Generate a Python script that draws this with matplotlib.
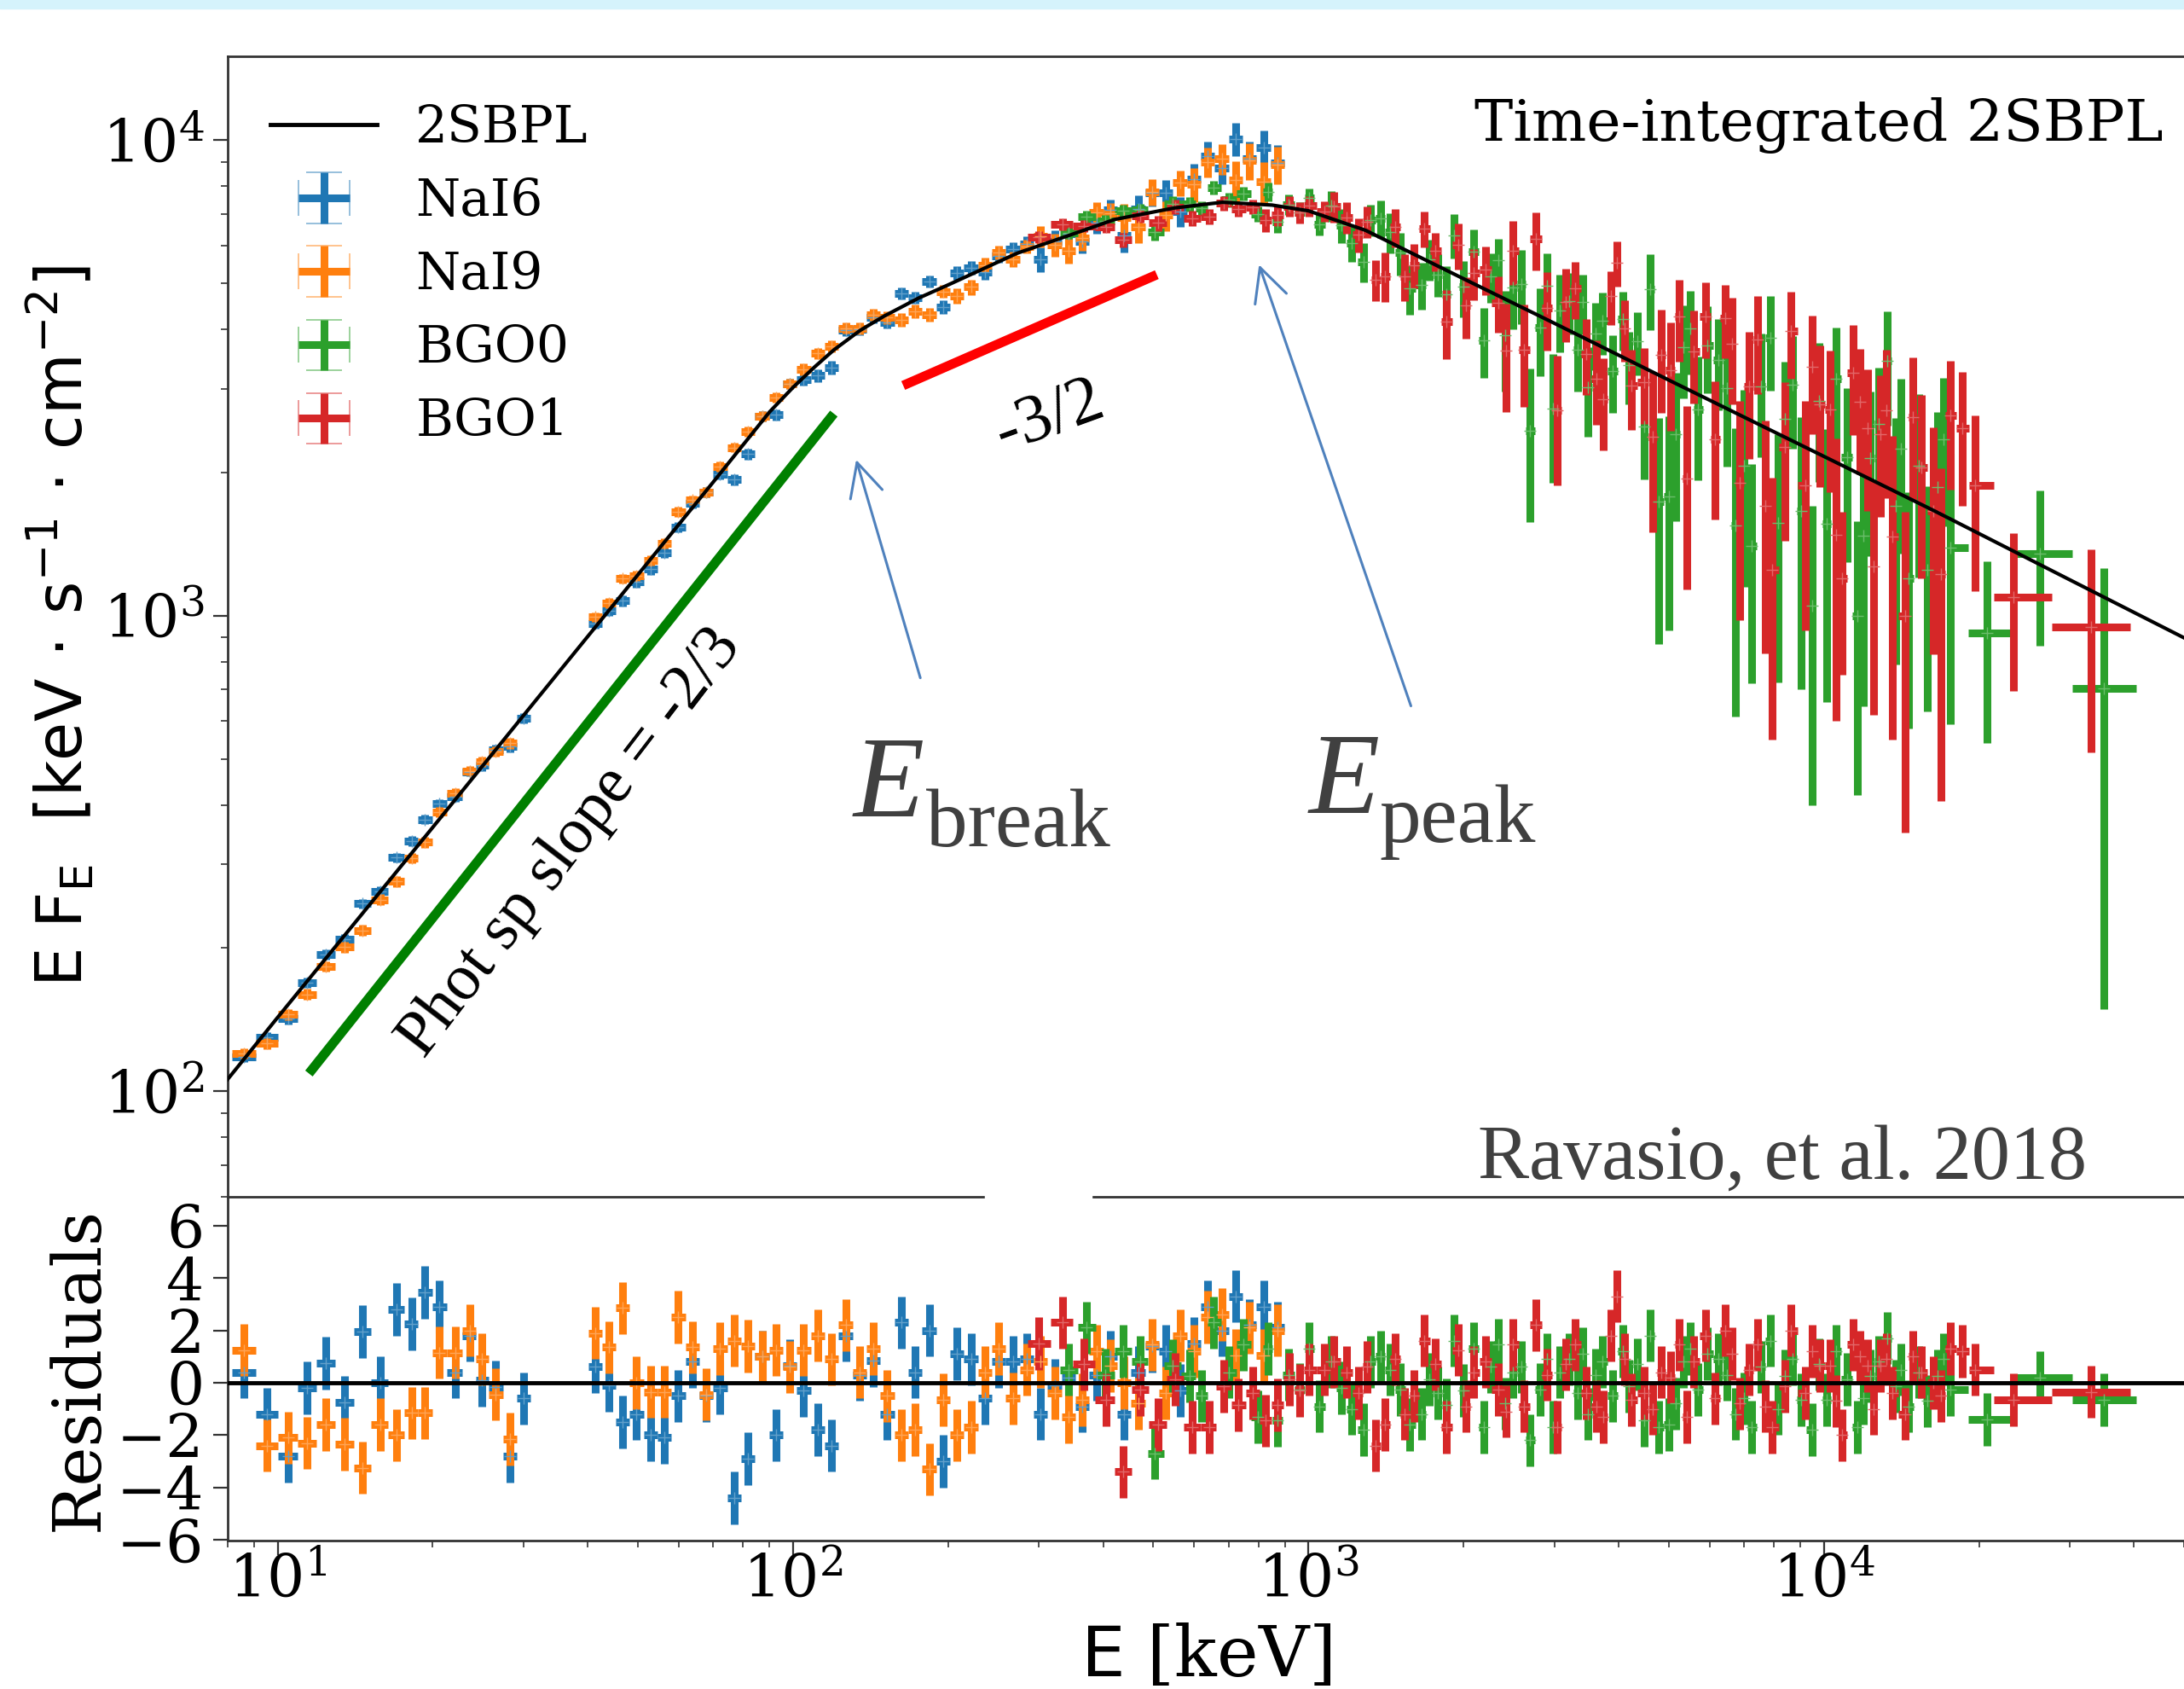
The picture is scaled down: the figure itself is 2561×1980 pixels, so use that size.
import numpy as np
import matplotlib
matplotlib.use("Agg")
import matplotlib.pyplot as plt
from matplotlib.colors import to_rgb
from matplotlib.lines import Line2D
from matplotlib.patches import Rectangle

plt.rcParams["font.family"] = "DejaVu Serif"
plt.rcParams["mathtext.fontset"] = "dejavuserif"

# 2SBPL best-fit curve (E in keV, E F_E)
model_e = [8, 10, 20, 30, 50, 70, 90, 100, 110, 120, 135, 150, 175, 200, 272, 350,
           421, 550, 681, 850, 1000, 1291, 2000, 3000, 5000, 10000, 16480, 30000, 50350]
model_f = [106, 143, 359, 617, 1219, 1909, 2680, 3020, 3330, 3620, 3980, 4260, 4650, 4960, 5780, 6350,
           6810, 7200, 7400, 7300, 7100, 6460, 5110, 4120, 3130, 2163, 1656, 1190, 895]

# NaI channel centres (keV); 30-40 keV is left out
nai_e_low = [8.6, 9.55, 10.5, 11.4, 12.4, 13.5, 14.6, 15.8, 17.0, 18.2, 19.3, 20.6, 22.1, 23.6,
             24.9, 26.5, 28.2, 30.0]
nai_e_high = [41.3, 43.9, 46.7, 49.7, 52.9, 56.3, 59.9, 63.8, 67.9, 72.2, 76.9, 81.8, 87.1, 92.7,
              98.6, 104.9, 111.6, 118.8, 126.5, 134.6, 143.2, 152.4, 162.2, 172.6, 183.7, 195.5,
              208.1, 221.4, 235.6, 250.8, 266.9, 284.0, 302.3, 321.7, 342.3, 364.3, 387.7, 412.6,
              439.0, 467.2, 497.3, 529.2, 563.2, 599.4, 637.8, 678.8, 722.4, 768.8, 818.1, 870.7]
nai_df_low = [3, 3.4, 3.8, 4.3, 4.8, 5.3, 5.9, 6.6, 7.3, 8, 8.6, 9.4, 10.3, 11.2, 12.1, 13.1, 14.2, 15.5]
nai_df_high = [24, 26, 28, 30, 33, 36, 39, 42, 46, 50, 54, 59, 64, 70, 76, 95, 101, 108, 113, 119,
               124, 129, 134, 138, 143, 147, 177, 183, 189, 195, 201, 206, 331, 338, 346, 355, 363,
               372, 481, 487, 494, 500, 506, 655, 660, 666, 811, 808, 806, 800]

nai6_f = [118, 130, 142, 169, 194, 209, 248, 263, 310, 336, 373, 402, 416, 470, 484, 522, 530, 609,
          962, 1025, 1074, 1177, 1252, 1358, 1537, 1726, 1816, 1985, 1932, 2187, 2627, 2647, 3072,
          3142, 3195, 3329, 3980, 4006, 4238, 4143, 4763, 4669, 5045, 4463, 5255, 5384, 5274, 5716,
          5900, 6058, 5613, 6116, 6364, 6128, 6711, 7132, 6293, 7155, 7743, 7746, 7070, 8263, 9252,
          8730, 10052, 9127, 9660, 8949]
nai6_r = [0.4, -1.2, -2.8, -0.2, 0.75, -0.75, 1.95, 0.0, 2.8, 2.25, 3.45, 2.9, 0.4, 1.8, 0.1, -0.15,
          -2.8, -0.6,
          0.6, -0.1, -1.5, -1.2, -2.0, -2.1, -0.5, 0.8, -0.5, -0.2, -4.4, -2.9, 1.0, -2.0, 0.65,
          -0.3, -1.8, -2.4, 1.8, 0.3, 0.85, -1.2, 2.3, 0.4, 2.0, -3.0, 1.1, 0.9, -0.6, 0.8, 0.8,
          0.9, -1.2, -0.1, 0.2, -0.9, 0.3, 1.0, -1.2, 0.4, 1.4, 1.2, -0.3, 1.5, 2.9, 2.0, 3.3, 2.2,
          2.9, 2.1]

nai9_f = [120, 126, 145, 160, 183, 201, 218, 253, 276, 309, 334, 386, 424, 472, 493, 519, 539,
          993, 1063, 1196, 1213, 1306, 1420, 1653, 1749, 1818, 2060, 2258, 2441, 2627, 2873, 3068,
          3290, 3559, 3684, 4025, 4018, 4294, 4234, 4189, 4365, 4288, 4808, 4706, 4909, 5462, 5813,
          5618, 5976, 6274, 6015, 5845, 6217, 7038, 7002, 6870, 6570, 7768, 6946, 8132, 8066, 8988,
          9129, 8227, 9047, 8170, 8869]
nai9_r = [1.25, -2.4, -2.1, -2.3, -1.6, -2.35, -3.25, -1.6, -2.0, -1.15, -1.15, 1.15, 1.15, 2.0,
          0.9, -0.45, -2.15,
          1.9, 1.35, 2.85, 0.0, -0.35, -0.35, 2.5, 1.35, -0.45, 1.3, 1.6, 1.4, 1.0, 1.25, 0.6,
          1.25, 1.8, 0.9, 2.2, 0.4, 1.3, -0.5, -2.0, -1.8, -3.3, -0.65, -2.0, -1.7, 0.4, 1.3, -0.6,
          0.5, 0.8, -0.4, -1.3, -0.65, 1.2, 0.65, 0.0, -0.8, 1.45, -0.4, 1.8, 1.2, 2.5, 2.6, 1.05,
          2.1, 1.05, 2.0]

bgo0_e = [343, 371, 404, 437, 472, 504, 545, 588, 620, 655,
          701, 749, 798, 834, 871, 915, 962, 1004, 1050, 1108,
          1160, 1212, 1278, 1321, 1381, 1440, 1507, 1574, 1661, 1718,
          1785, 1854, 1919, 2000, 2094, 2188, 2260, 2333, 2410, 2496,
          2590, 2692, 2818, 2900, 2979, 3070, 3200, 3328, 3410, 3489,
          3610, 3724, 3900, 4083, 4190, 4340, 4477, 4605, 4775, 5000,
          5170, 5336, 5500, 5692, 5950, 6249, 6480, 6735, 7000, 7244,
          7560, 7871, 8150, 8395, 8700, 9040, 9480, 9780, 10120, 10560,
          11090, 11610, 11950, 12300, 12800, 13300, 13800, 14100, 14600, 15300,
          15900, 16600, 17100, 17600, 20700, 26300, 35000]
bgo0_f = [6393, 6902, 6766, 7111, 7142, 6402, 7353, 7328, 7184, 7956,
          7491, 7730, 6995, 7784, 6742, 7317, 7056, 7552, 6658, 7273,
          6612, 6083, 5550, 6789, 6854, 6399, 5792, 4880, 4968, 5617,
          5216, 4736, 6312, 4911, 5830, 3796, 5161, 5594, 3886, 4904,
          4986, 2443, 4033, 4944, 2726, 4389, 4583, 3627, 4560, 3021,
          3916, 4163, 3272, 4200, 3365, 3779, 2502, 4860, 1737, 1778,
          2411, 3676, 4020, 2716, 3700, 3453, 3011, 1548, 2065, 1400,
          3036, 3832, 1567, 2589, 3062, 1658, 1050, 2829, 1561, 3155,
          2156, 1000, 1470, 2144, 2529, 3431, 1700, 2247, 1200, 2065,
          1250, 1861, 2351, 1390, 920, 1350, 703]
bgo0_df = [189, 195, 201, 206, 209, 248, 252, 254, 256, 258,
           259, 257, 257, 365, 364, 360, 357, 355, 349, 547,
           538, 529, 519, 510, 623, 609, 595, 581, 565, 555,
           543, 692, 679, 664, 648, 633, 622, 612, 925, 908,
           890, 872, 851, 838, 826, 813, 676, 662, 653, 645,
           633, 623, 608, 593, 585, 574, 565, 883, 866, 845,
           830, 816, 803, 789, 770, 750, 954, 934, 915, 680,
           878, 860, 843, 831, 815, 958, 650, 918, 902, 881,
           858, 580, 825, 812, 795, 927, 909, 899, 620, 860,
           620, 824, 811, 798, 380, 486, 554]
bgo0_r = [0.5, 2.1, 0.3, 1.2, 0.8, -2.7, 0.65, 0.26, -0.5, 2.3,
          0.4, 1.45, -1.3, 1.3, -1.45, 0.3, -0.26, 1.3, -0.9, 0.8,
          -0.2, -1.0, -1.8, 0.8, 1.0, 0.5, -0.26, -1.6, -1.2, 0.13,
          -0.4, -0.85, 1.6, -0.3, 1.3, -1.7, 0.6, 1.45, -0.8, 0.4,
          0.6, -2.2, -0.26, 0.9, -1.7, 0.4, 0.9, -0.4, 1.1, -1.2,
          0.3, 0.8, -0.5, 1.2, -0.13, 0.7, -1.45, 1.8, -1.7, -1.6,
          -0.8, 0.8, 1.3, -0.26, 1.1, 0.9, 0.3, -1.2, -0.6, -1.7,
          0.6, 1.6, -1.0, 0.26, 0.9, -0.65, -1.8, 0.7, -0.65, 1.2,
          0.13, -1.7, -0.6, 0.26, 0.8, 1.7, -0.13, 0.5, -0.9, 0.4,
          -0.7, 0.26, 0.9, -0.26, -1.4, 0.2, -0.65]

bgo1_e = [300, 333, 367, 405, 437, 472, 510, 551, 595, 642,
          685, 732, 781, 827, 871, 920, 960, 1004, 1074, 1122,
          1184, 1252, 1300, 1352, 1410, 1475, 1539, 1605, 1680, 1765,
          1854, 1955, 2020, 2094, 2209, 2333, 2415, 2496, 2620, 2767,
          2900, 3034, 3160, 3298, 3454, 3616, 3740, 3858, 3972, 4100,
          4237, 4477, 4650, 4830, 5040, 5236, 5420, 5588, 5908, 6150,
          6426, 6640, 6857, 7150, 7452, 7700, 7949, 8395, 8635, 9205,
          9500, 9820, 10290, 10580, 10870, 11380, 11760, 12150, 12500, 12860,
          13220, 13590, 14360, 14900, 15460, 16340, 16900, 17580, 18600, 19680,
          23300, 33000]
bgo1_f = [6263, 6660, 6602, 6581, 6164, 6921, 6692, 7233, 6840, 6907,
          7366, 7148, 7236, 6782, 6961, 7250, 7044, 7267, 7088, 7239,
          6884, 6325, 6745, 5092, 5176, 6558, 5175, 5461, 6509, 5847,
          4148, 6016, 4490, 5247, 5352, 4548, 3604, 5858, 3628, 6187,
          4441, 2698, 4562, 4874, 3555, 3152, 2848, 4696, 5528, 4014,
          3042, 3095, 2376, 3533, 3286, 4250, 1946, 3587, 4253, 2348,
          4215, 3726, 1904, 3039, 3812, 1702, 1250, 2265, 3973, 1879,
          3341, 2777, 2710, 1480, 1200, 3244, 2813, 2477, 1268, 2403,
          2698, 1466, 1000, 2619, 2053, 1662, 1224, 2637, 2480, 1880,
          1094, 948]
bgo1_df = [180, 187, 194, 201, 206, 209, 248, 252, 255, 257,
           259, 258, 257, 366, 364, 360, 358, 355, 346, 544,
           534, 523, 515, 504, 616, 602, 588, 575, 561, 546,
           692, 673, 661, 648, 630, 612, 924, 908, 885, 859,
           838, 818, 800, 665, 649, 633, 622, 611, 602, 592,
           581, 565, 879, 861, 842, 825, 810, 796, 773, 757,
           739, 942, 925, 905, 885, 870, 700, 831, 818, 949,
           933, 916, 894, 880, 450, 847, 832, 817, 650, 793,
           930, 917, 650, 873, 856, 831, 816, 799, 775, 752,
           400, 433]
bgo1_r = [1.5, 2.3, 0.7, -0.65, -3.4, -0.26, -1.6, 0.13, -1.7, -1.7,
          -0.13, -0.85, -0.4, -1.45, -0.85, 0.13, -0.3, 0.5, 0.5, 0.8,
          0.4, -0.4, 0.6, -2.4, -1.6, 0.9, -1.2, -0.5, 1.6, 0.7,
          -1.7, 1.25, -0.9, 0.4, 0.8, -0.26, -1.1, 1.45, -0.9, 2.2,
          0.3, -1.7, 0.7, 1.45, -0.4, -0.9, -1.3, 1.8, 3.3, 0.9,
          -0.65, -0.4, -1.0, 0.4, 0.2, 1.45, -1.3, 0.8, 1.8, -0.6,
          2.0, 1.1, -0.8, 0.5, 1.45, -0.9, -1.7, -0.13, 2.0, -0.4,
          1.2, 0.65, 0.65, -0.7, -2.0, 1.45, 1.0, 0.65, -1.0, 0.65,
          0.9, -0.4, -1.2, 1.0, 0.4, 0.0, -0.5, 1.3, 1.2, 0.5,
          -0.65, -0.35]

labels = ["NaI6", "NaI9", "BGO0", "BGO1"]
colors = ["#1f77b4", "#ff7f0e", "#2ca02c", "#d62728"]

# slope guides drawn by hand on the original
phot_guide_e, phot_guide_f = [11.5, 120], [109, 2660]
sync_guide_e, sync_guide_f = [163.6, 508], [3048, 5212]


def bin_edges(centers, gap=None):
    c = np.asarray(centers, dtype=float)
    lo = np.empty_like(c)
    hi = np.empty_like(c)
    cut = [0, len(c)] if gap is None else [0, int(np.searchsorted(c, gap)), len(c)]
    for a, b in zip(cut[:-1], cut[1:]):
        seg = c[a:b]
        mid = np.sqrt(seg[1:] * seg[:-1])
        lo[a + 1:b] = mid
        hi[a:b - 1] = mid
        lo[a] = seg[0] ** 2 / mid[0]
        hi[b - 1] = seg[-1] ** 2 / mid[-1]
    return c, lo, hi


def light(col, k=0.3):
    r, g, b = to_rgb(col)
    return (r + (1 - r) * k, g + (1 - g) * k, b + (1 - b) * k)


detectors = [
    (nai_e_low + nai_e_high, nai6_f, nai_df_low + nai_df_high, nai6_r, 35),
    (nai_e_low[:17] + nai_e_high, nai9_f, nai_df_low[:17] + nai_df_high, nai9_r, 35),
    (bgo0_e, bgo0_f, bgo0_df, bgo0_r, None),
    (bgo1_e, bgo1_f, bgo1_df, bgo1_r, None),
]

fig = plt.figure(figsize=(25.61, 19.80), dpi=100)
ax = fig.add_axes([0.10426, 0.29141, 0.89574, 0.67525])
ax2 = fig.add_axes([0.10426, 0.08788, 0.89574, 0.20354], sharex=ax)

for (e, f, df, r, gap), col in zip(detectors, colors):
    c, lo, hi = bin_edges(e, gap)
    xerr = [c - lo, hi - c]
    style = dict(fmt="+", color=col, mec=light(col), ms=10, mew=1.0,
                 elinewidth=6.5, capsize=0, zorder=2)
    ax.errorbar(c, f, xerr=xerr, yerr=df, **style)
    ax2.errorbar(c, r, xerr=xerr, yerr=1.0, **style)

ax.plot(model_e, model_f, color="k", lw=3, zorder=4)
ax2.axhline(0, color="k", lw=3.5, zorder=4)

ax.plot(phot_guide_e, phot_guide_f, color="green", lw=8, solid_capstyle="butt", zorder=3)
ax.plot(sync_guide_e, sync_guide_f, color="#ff0000", lw=8, solid_capstyle="butt", zorder=3)

ax.set_xscale("log")
ax.set_yscale("log")
ax.set_xlim(8, 5.0e4)
ax.set_ylim(60, 1.5e4)
ax2.set_ylim(-6.03, 7.1)
ax2.set_yticks([-6, -4, -2, 0, 2, 4, 6])

for a in (ax, ax2):
    a.spines["right"].set_visible(False)
    for s in a.spines.values():
        s.set_color("#333333")
        s.set_linewidth(2)
    a.tick_params(which="major", direction="out", length=12, width=1.6,
                  colors="#333333", labelcolor="black", labelsize=50, pad=8)
    a.tick_params(which="minor", direction="out", length=5.5, width=1.2, colors="#333333")
ax.spines["bottom"].set_visible(False)
ax.tick_params(axis="x", which="both", bottom=False, labelbottom=False)
ax2.tick_params(axis="x", which="major", pad=-2)

ax.set_ylabel(r"E F$_\mathsf{E}$  [keV$\,\cdot\,$s$^{\mathsf{-1}}\,\cdot\,$cm$^{\mathsf{-2}}$]",
              fontsize=53, fontfamily="DejaVu Sans", math_fontfamily="dejavusans", va="center")
ax.yaxis.set_label_coords(-0.085, 0.5)
ax2.set_ylabel("Residuals", fontsize=56, va="center")
ax2.yaxis.set_label_coords(-0.076, 0.5)
ax2.set_xlabel(r"$\mathsf{E}$ [keV]", fontsize=59, va="baseline")
ax2.xaxis.set_label_coords(0.5, -0.3945)

# legend with capped crosses as in the original
handles = [Line2D([], [], color="k", lw=3.5)]
for col in colors:
    h = ax.errorbar([np.nan], [np.nan], xerr=[1], yerr=[1], fmt="none", ecolor=col,
                    elinewidth=6.5, capsize=15, capthick=1.2)
    for cap in h[1]:
        cap.set_alpha(0.55)
    handles.append(h)
ax.legend(handles, ["2SBPL"] + labels, loc="upper left", bbox_to_anchor=(0.0218, 0.9588),
          frameon=False, fontsize=43, handlelength=2.1, handletextpad=0.75,
          labelspacing=0.47, borderaxespad=0, borderpad=0)

ax.text(0.9895, 0.926, "Time-integrated 2SBPL", transform=ax.transAxes,
        ha="right", va="baseline", fontsize=49)
ax.text(0.9503, 0.0157, "Ravasio, et al. 2018", transform=ax.transAxes,
        ha="right", va="baseline", fontsize=65, fontfamily="Liberation Serif", color="#404040")

gray = "#404040"
ax.text(131, 378, "E", ha="left", va="baseline", fontsize=98, style="italic",
        fontfamily="Liberation Serif", color=gray)
ax.text(181, 327, "break", ha="left", va="baseline", fontsize=70,
        fontfamily="Liberation Serif", color=gray)
ax.text(1000, 385, "E", ha="left", va="baseline", fontsize=98, style="italic",
        fontfamily="Liberation Serif", color=gray)
ax.text(1371, 335, "peak", ha="left", va="baseline", fontsize=70,
        fontfamily="Liberation Serif", color=gray)

arrow = dict(arrowstyle="->,head_length=0.7,head_width=0.35", color="#4f81bd", lw=2.2,
             mutation_scale=40, shrinkA=0, shrinkB=0)
ax.annotate("", xy=(132.6, 2128), xytext=(176.6, 740), arrowprops=arrow)
ax.annotate("", xy=(802, 5470), xytext=(1581, 646), arrowprops=arrow)

ax.text(37.0, 332, "Phot sp slope = -2/3", rotation=52.5, rotation_mode="anchor",
        ha="center", va="center", fontsize=55, fontfamily="Liberation Serif")
ax.text(315, 2606, "-3/2", rotation=20, rotation_mode="anchor",
        ha="center", va="center", fontsize=58, fontfamily="Liberation Serif")

# light strip at the top and the small break in the panel divider, as in the source image
fig.add_artist(Rectangle((0, 1 - 9.5 / 1980), 1, 9.5 / 1980, transform=fig.transFigure,
                         color="#d5f3fc", zorder=10))
fig.add_artist(Rectangle((1155 / 2561, 1 - 1410 / 1980), 125 / 2561, 14 / 1980,
                         transform=fig.transFigure, color="white", zorder=10))

fig.savefig("out.png", dpi=100)
